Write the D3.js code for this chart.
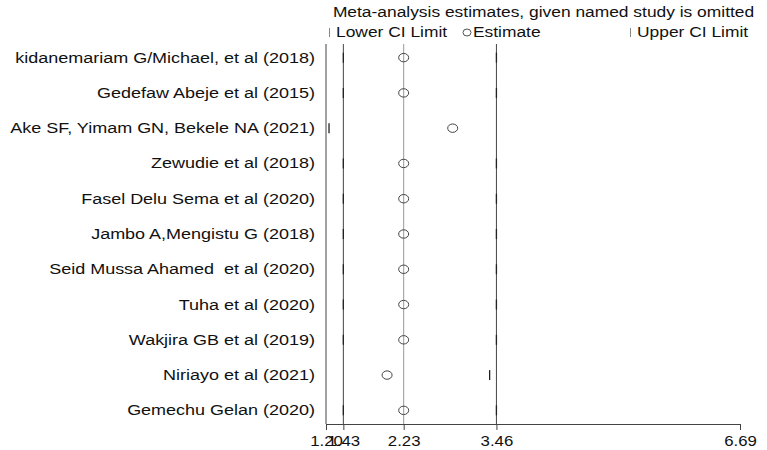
<!DOCTYPE html>
<html><head><meta charset="utf-8">
<script src="https://cdn.jsdelivr.net/npm/d3@7"></script>
<style>body{margin:0;background:#fff}svg{display:block}text{font-family:"Liberation Sans",Arial,sans-serif;fill:#111;white-space:pre}</style>
</head><body><svg id="c" width="767" height="450"></svg>
<script>
const studies = ["kidanemariam G/Michael, et al (2018)","Gedefaw Abeje et al (2015)","Ake SF, Yimam GN, Bekele NA (2021)","Zewudie et al (2018)","Fasel Delu Sema et al (2020)","Jambo A,Mengistu G (2018)","Seid Mussa Ahamed  et al (2020)","Tuha et al (2020)","Wakjira GB et al (2019)","Niriayo et al (2021)","Gemechu Gelan (2020)"];
const estimate = [2.23,2.23,2.88,2.23,2.23,2.23,2.23,2.23,2.23,2.01,2.23];
const lowerCI = [1.43,1.43,1.24,1.43,1.43,1.43,1.43,1.43,1.43,null,1.43];
const upperCI = [3.46,3.46,null,3.46,3.46,3.46,3.46,3.46,3.46,3.37,3.46];
const overall = {lower:1.43, est:2.23, upper:3.46};
const tickValues = [1.20,1.43,2.23,3.46,6.69];

const SX = 1.2; // horizontal stretch of text seen in the reference
const svg = d3.select("#c");
const x = d3.scaleLinear().domain([1.20,6.69]).range([326,740]);
const y = d3.scaleBand().domain(studies).range([40,428]);
const yTop = 44, yBot = 424;
const cy = d => y(d)+y.bandwidth()/2;

function txt(parent, tx, ty, s, size, anchor){
  return parent.append("text").attr("transform",`translate(${tx},${ty}) scale(${SX},1)`)
    .attr("font-size",size).attr("text-anchor",anchor||"start").text(s);
}

// title and legend
txt(svg,543.5,17,"Meta-analysis estimates, given named study is omitted",14.5,"middle");
const lg = svg.append("g");
lg.append("line").attr("x1",329.5).attr("x2",329.5).attr("y1",28).attr("y2",37).attr("stroke","#888");
txt(lg,336,37,"Lower CI Limit",14.5);
lg.append("ellipse").attr("cx",467).attr("cy",32.5).attr("rx",4).attr("ry",3.5).attr("fill","none").attr("stroke","#555");
txt(lg,473,37,"Estimate",14.5);
lg.append("line").attr("x1",630.5).attr("x2",630.5).attr("y1",28).attr("y2",37).attr("stroke","#888");
txt(lg,637,37,"Upper CI Limit",14.5);

// overall reference lines
[["lower","#444"],["est","#999"],["upper","#444"]].forEach(([k,c])=>{
  svg.append("line").attr("x1",x(overall[k])).attr("x2",x(overall[k])).attr("y1",yTop).attr("y2",yBot).attr("stroke",c).attr("stroke-width",1);
});

// axes
const ax = svg.append("g").attr("transform",`translate(0,${yBot})`)
  .call(d3.axisBottom(x).tickValues(tickValues).tickFormat(d3.format(".2f")).tickSize(6).tickSizeOuter(0));
ax.select(".domain").attr("stroke","#444");
ax.selectAll(".tick line").attr("stroke","#444");
ax.selectAll(".tick text").attr("font-size",14).attr("y",0).attr("dy",0)
  .attr("transform",`translate(0,22) scale(${SX},1)`)
  .style("font-family","Liberation Sans, Arial, sans-serif").attr("fill","#111");
svg.append("line").attr("x1",x(1.20)).attr("x2",x(1.20)).attr("y1",yTop).attr("y2",yBot).attr("stroke","#444");

// labels
const lab = svg.append("g");
studies.forEach(s => txt(lab,315,cy(s)+5,s,15,"end"));

// markers
const rows = studies.map((s,i)=>({s,e:estimate[i],l:lowerCI[i],u:upperCI[i]}));
const g = svg.append("g");
g.selectAll("line.lo").data(rows.filter(r=>r.l!=null)).join("line").attr("class","lo")
  .attr("x1",d=>x(d.l)).attr("x2",d=>x(d.l)).attr("y1",d=>cy(d.s)-5).attr("y2",d=>cy(d.s)+5).attr("stroke","#222").attr("stroke-width",1.3);
g.selectAll("line.up").data(rows.filter(r=>r.u!=null)).join("line").attr("class","up")
  .attr("x1",d=>x(d.u)).attr("x2",d=>x(d.u)).attr("y1",d=>cy(d.s)-5).attr("y2",d=>cy(d.s)+5).attr("stroke","#222").attr("stroke-width",1.3);
g.selectAll("ellipse").data(rows).join("ellipse")
  .attr("cx",d=>x(d.e)).attr("cy",d=>cy(d.s)).attr("rx",5).attr("ry",4.2).attr("fill","none").attr("stroke","#444").attr("stroke-width",1);
</script></body></html>
